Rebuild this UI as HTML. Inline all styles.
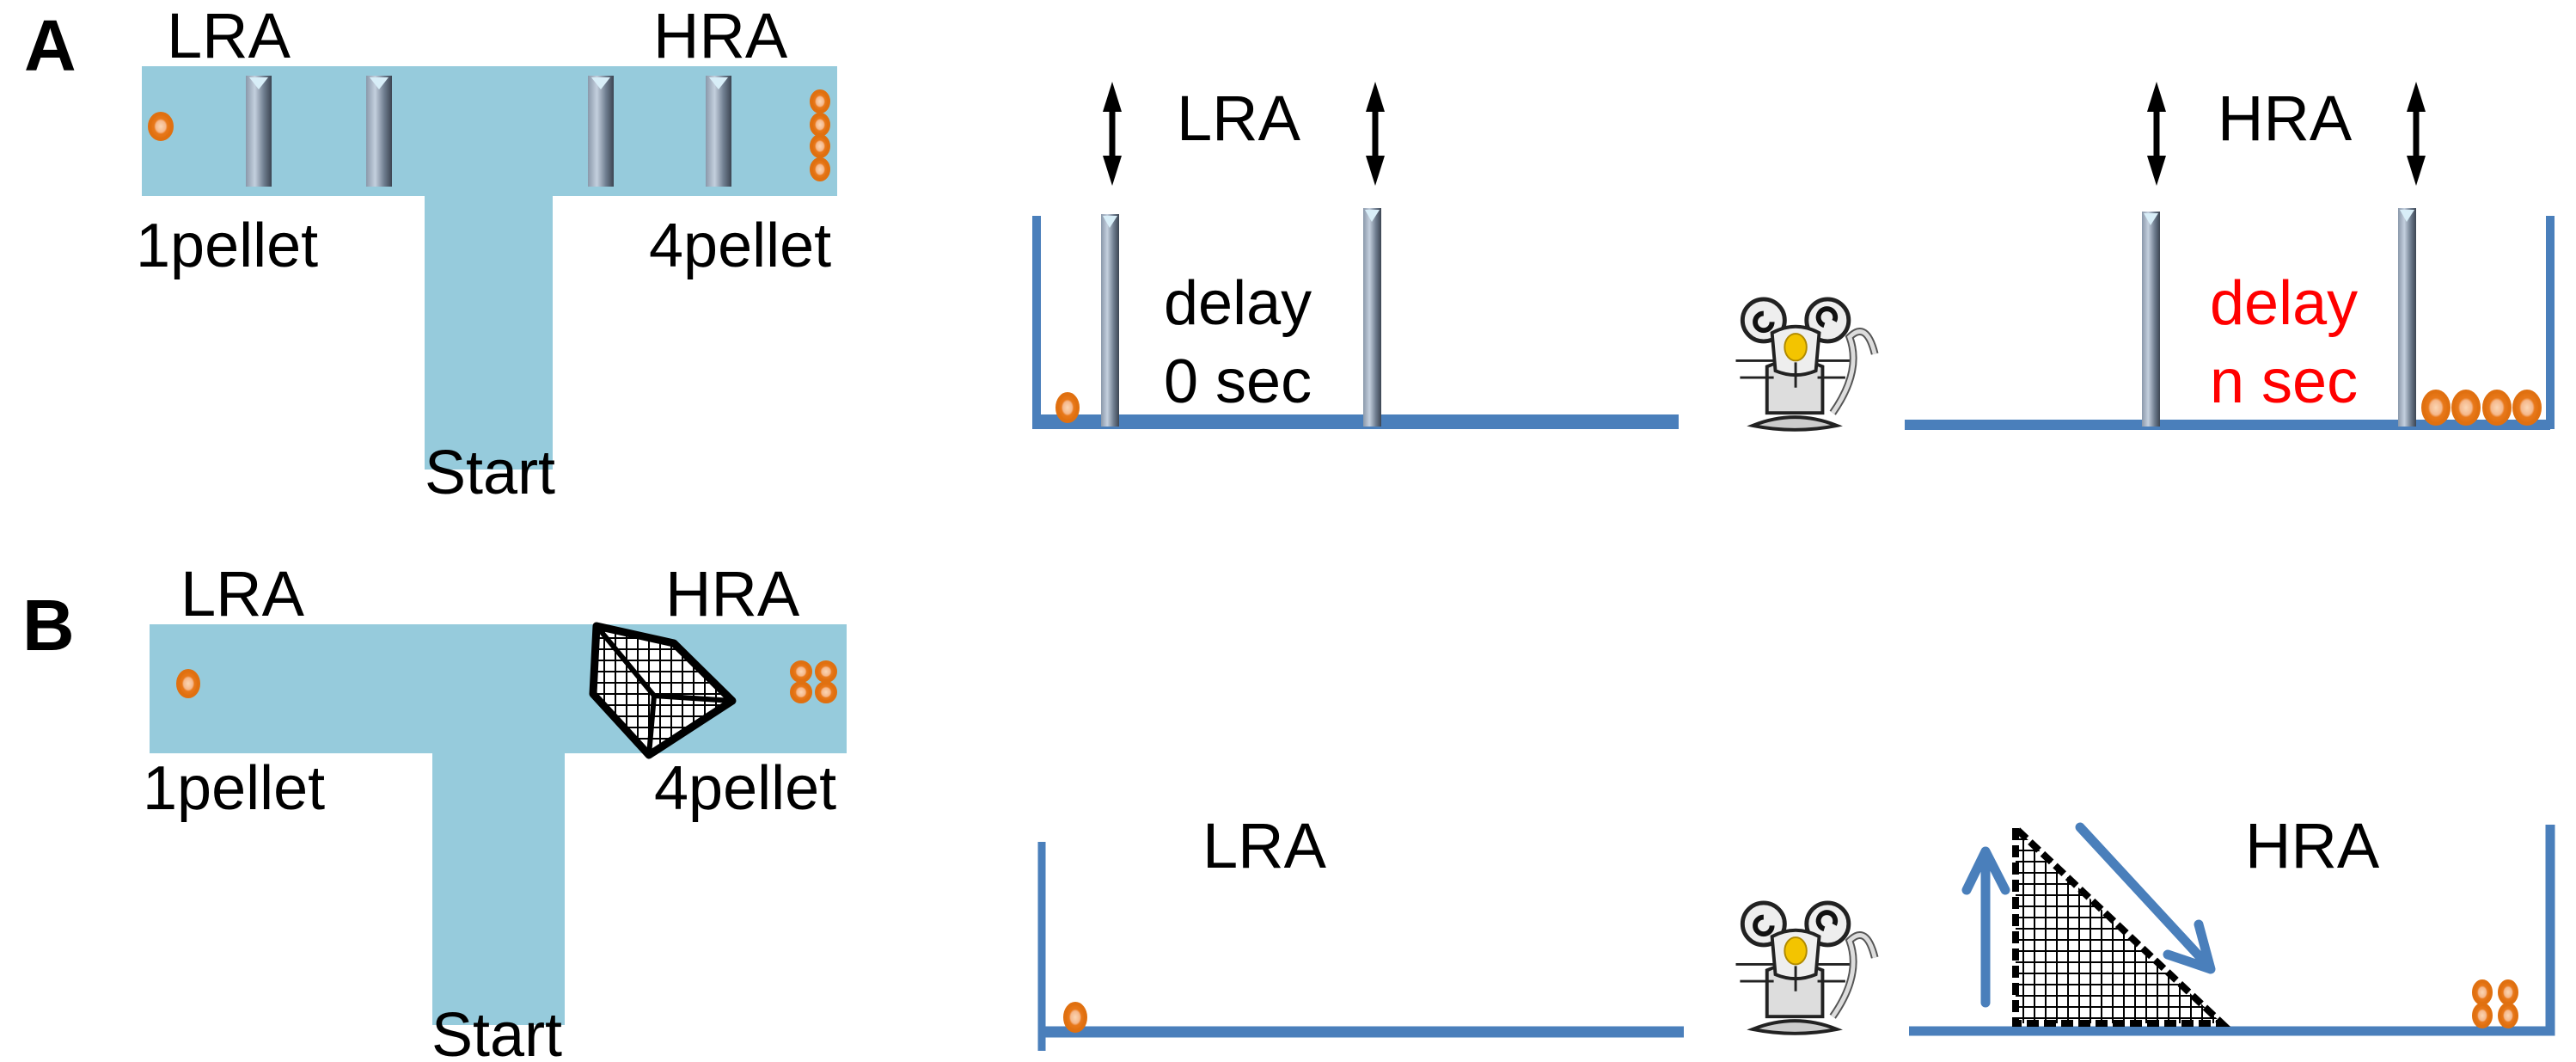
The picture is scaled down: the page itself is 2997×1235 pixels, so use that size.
<!DOCTYPE html>
<html><head><meta charset="utf-8"><style>
html,body{margin:0;padding:0;background:#fff;}
svg{display:block;}
text{font-family:"Liberation Sans",Arial,sans-serif;}
</style></head><body>
<svg width="2997" height="1235" viewBox="0 0 2997 1235" xmlns="http://www.w3.org/2000/svg">
<defs>
<linearGradient id="gate" x1="0" x2="1" y1="0" y2="0">
<stop offset="0" stop-color="#8a98aa"/><stop offset="0.35" stop-color="#c4d0de"/><stop offset="0.7" stop-color="#6f7d8f"/><stop offset="1" stop-color="#3c4552"/>
</linearGradient>
<pattern id="grid" width="13" height="13" patternUnits="userSpaceOnUse">
<rect width="13" height="13" fill="#fff"/>
<path d="M0 0H13M0 0V13" stroke="#000" stroke-width="4" fill="none"/>
</pattern>
<radialGradient id="pel"><stop offset="0" stop-color="#fbd6b4"/><stop offset="0.45" stop-color="#f5b78a"/><stop offset="0.6" stop-color="#e8781a"/><stop offset="1" stop-color="#e07010"/></radialGradient>
<g id="mouse">
<path d="M140 140 q35 -50 20 -90 q20 -20 30 20" fill="none" stroke="#555" stroke-width="9"/>
<path d="M140 140 q35 -50 20 -90 q20 -20 30 20" fill="none" stroke="#ddd" stroke-width="5"/>
<path d="M62 140 L62 85 Q95 70 128 85 L128 140 Z" fill="#ddd" stroke="#222" stroke-width="4"/>
<path d="M45 155 Q95 135 145 155 Q95 165 45 155Z" fill="#ccc" stroke="#222" stroke-width="4"/>
<circle cx="58" cy="30" r="25" fill="#eee" stroke="#222" stroke-width="5"/>
<circle cx="134" cy="30" r="25" fill="#eee" stroke="#222" stroke-width="5"/>
<path d="M58 22 a10 10 0 1 0 10 10" fill="none" stroke="#111" stroke-width="6"/>
<path d="M130 36 a10 10 0 1 1 12 -5" fill="none" stroke="#111" stroke-width="6"/>
<path d="M68 45 Q96 30 124 45 L120 90 Q96 100 72 90 Z" fill="#eee" stroke="#222" stroke-width="4"/>
<ellipse cx="96" cy="62" rx="13" ry="16" fill="#f3c400" stroke="#b08a00" stroke-width="2"/>
<path d="M25 78 H70 M30 98 H70 M122 78 H160 M122 98 H155 M96 80 V110" stroke="#222" stroke-width="3"/>
</g>
</defs>

<!-- Panel A left -->
<text x="28" y="82" font-size="84" font-weight="bold">A</text>
<text x="194" y="67" font-size="74">LRA</text>
<text x="760" y="67" font-size="74">HRA</text>
<rect x="165" y="77" width="809" height="151" fill="#96cbdc"/>
<rect x="494" y="226" width="149" height="320" fill="#96cbdc"/>
<text x="494" y="574" font-size="72">Start</text>
<text x="158" y="310" font-size="72">1pellet</text>
<text x="755" y="310" font-size="72">4pellet</text>
<g fill="url(#gate)">
<rect x="286" y="88" width="30" height="129"/><rect x="426" y="88" width="30" height="129"/>
<rect x="684" y="88" width="30" height="129"/><rect x="821" y="88" width="30" height="129"/>
</g>
<g fill="#d8eef8"><path d="M290 90 L312 90 L301 104Z"/><path d="M430 90 L452 90 L441 104Z"/><path d="M688 90 L710 90 L699 104Z"/><path d="M825 90 L847 90 L836 104Z"/></g>
<g fill="url(#pel)" stroke="#e07010" stroke-width="4">
<ellipse cx="187" cy="147" rx="13" ry="15"/>
<ellipse cx="954" cy="118" rx="10" ry="12"/><ellipse cx="954" cy="145" rx="10" ry="12"/>
<ellipse cx="954" cy="170" rx="10" ry="12"/><ellipse cx="954" cy="197" rx="10" ry="12"/>
</g>

<!-- Panel A right -->
<g stroke="#4a7fbb" fill="none">
<path d="M1206 251 V494 H1953" stroke-width="10"/>
<path d="M1206 488 H1953" stroke-width="12"/>
<path d="M2216 494 H2967 V251" stroke-width="10"/>
<path d="M2216 494 H2967" stroke-width="12"/>
</g>
<g fill="url(#gate)">
<rect x="1281" y="249" width="21" height="247"/><rect x="1586" y="242" width="21" height="254"/>
<rect x="2492" y="246" width="21" height="250"/><rect x="2790" y="242" width="21" height="254"/>
</g>
<g fill="#d8eef8"><path d="M1283 251 L1300 251 L1291 265Z"/><path d="M1588 244 L1605 244 L1596 258Z"/><path d="M2494 248 L2511 248 L2502 262Z"/><path d="M2792 244 L2809 244 L2800 258Z"/></g>
<g stroke="#000" stroke-width="7" fill="#000">
<g id="dar"><line x1="1294" y1="115" x2="1294" y2="195"/><path d="M1294 95 L1283 130 L1305 130Z" stroke="none"/><path d="M1294 216 L1283 181 L1305 181Z" stroke="none"/></g>
<use href="#dar" x="306"/><use href="#dar" x="1215"/><use href="#dar" x="1517"/>
</g>
<text x="1369" y="163" font-size="74">LRA</text>
<text x="2580" y="163" font-size="74">HRA</text>
<text x="1354" y="377" font-size="72">delay</text>
<text x="1354" y="468" font-size="72">0 sec</text>
<text x="2571" y="377" font-size="72" fill="#ff0000">delay</text>
<text x="2571" y="468" font-size="72" fill="#ff0000">n sec</text>
<use href="#mouse" transform="translate(1995,343) scale(0.98)"/>
<g fill="url(#pel)" stroke="#e07010" stroke-width="4">
<ellipse cx="1242" cy="474" rx="12" ry="16"/>
<ellipse cx="2834" cy="474" rx="15" ry="19"/><ellipse cx="2869" cy="474" rx="15" ry="19"/>
<ellipse cx="2905" cy="474" rx="15" ry="19"/><ellipse cx="2940" cy="474" rx="15" ry="19"/>
</g>

<!-- Panel B left -->
<text x="26" y="756" font-size="84" font-weight="bold">B</text>
<text x="210" y="716" font-size="74">LRA</text>
<text x="774" y="716" font-size="74">HRA</text>
<rect x="174" y="726" width="811" height="150" fill="#96cbdc"/>
<rect x="503" y="874" width="154" height="318" fill="#96cbdc"/>
<text x="502" y="1228" font-size="72">Start</text>
<text x="166" y="941" font-size="72">1pellet</text>
<text x="761" y="941" font-size="72">4pellet</text>
<path d="M694 728 L784 748 L852 815 L755 878 L690 807 Z" fill="url(#grid)" stroke="#000" stroke-width="9" stroke-linejoin="round"/>
<path d="M694 728 L761 809 L852 815 M761 809 L755 878" fill="none" stroke="#000" stroke-width="6"/>
<g fill="url(#pel)" stroke="#e07010" stroke-width="4">
<ellipse cx="219" cy="795" rx="12" ry="15"/>
<ellipse cx="932" cy="781" rx="11" ry="11"/><ellipse cx="961" cy="781" rx="11" ry="11"/>
<ellipse cx="932" cy="805" rx="11" ry="11"/><ellipse cx="961" cy="805" rx="11" ry="11"/>
</g>

<!-- Panel B right -->
<g stroke="#4a7fbb" fill="none">
<path d="M1212 979 V1222" stroke-width="9"/>
<path d="M1212 1200 H1959" stroke-width="13"/>
<path d="M2221 1199 H2967 V959" stroke-width="11"/>
</g>
<text x="1399" y="1009" font-size="74">LRA</text>
<text x="2612" y="1009" font-size="74">HRA</text>
<path d="M2345 963 L2345 1190 L2585 1190 Z" fill="url(#grid)" stroke="#000" stroke-width="8" stroke-dasharray="14 6"/>
<g stroke="#4a7fbb" stroke-width="11" fill="none" stroke-linecap="round" stroke-linejoin="round">
<path d="M2310 1166 V992 M2288 1035 L2310 990 L2333 1035"/>
<path d="M2420 962 L2568 1122 M2558 1075 L2572 1127 L2522 1110"/>
</g>
<use href="#mouse" transform="translate(1995,1045) scale(0.98)"/>
<g fill="url(#pel)" stroke="#e07010" stroke-width="4">
<ellipse cx="1251" cy="1183" rx="12" ry="16"/>
<ellipse cx="2888" cy="1154" rx="10" ry="13"/><ellipse cx="2918" cy="1154" rx="10" ry="13"/>
<ellipse cx="2888" cy="1181" rx="10" ry="13"/><ellipse cx="2918" cy="1181" rx="10" ry="13"/>
</g>
</svg>
</body></html>
